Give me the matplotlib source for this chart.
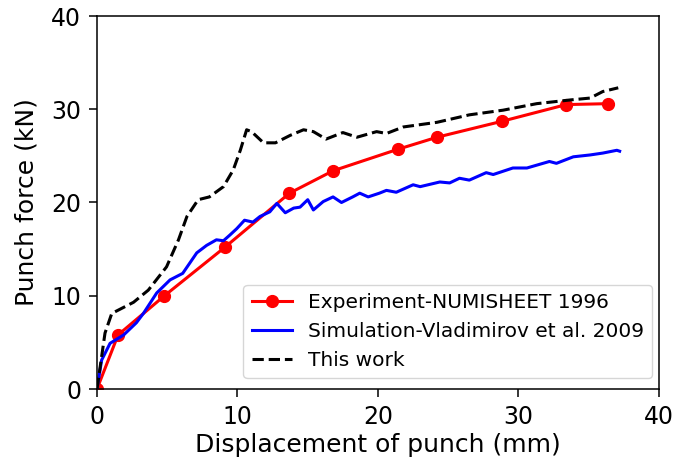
import numpy as np
import matplotlib
matplotlib.use("Agg")
import matplotlib.pyplot as plt

# Experiment (NUMISHEET 1996)
exp_x = [0.0, 1.5, 4.8, 9.1, 13.7, 16.8, 21.4, 24.2, 28.8, 33.4, 36.4]
exp_y = [0.0, 5.8, 10.0, 15.2, 21.0, 23.4, 25.7, 27.0, 28.7, 30.5, 30.6]

# Simulation (Vladimirov et al. 2009)
sim_x = [0.0, 0.33, 0.93, 1.9, 2.8, 3.3, 4.25, 5.2, 6.1, 6.6, 7.1, 7.8, 8.5, 9.0,
         9.45, 9.95, 10.5, 11.1, 11.6, 12.3, 12.8, 13.4, 14.0, 14.45, 15.0, 15.4,
         16.1, 16.8, 17.4, 18.2, 18.7, 19.3, 20.1, 20.6, 21.3, 22.5, 23.0, 24.4,
         25.1, 25.8, 26.5, 27.7, 28.2, 29.6, 30.6, 32.2, 32.7, 33.9, 35.1, 36.0,
         37.0, 37.2]
sim_y = [0.0, 3.1, 4.9, 5.8, 7.1, 8.1, 10.3, 11.7, 12.4, 13.5, 14.6, 15.4, 16.0, 15.9,
         16.5, 17.2, 18.1, 17.9, 18.5, 19.0, 19.9, 18.9, 19.4, 19.5, 20.3, 19.2,
         20.1, 20.6, 20.0, 20.6, 21.0, 20.6, 21.0, 21.3, 21.1, 21.9, 21.7, 22.2,
         22.1, 22.6, 22.4, 23.2, 23.0, 23.7, 23.7, 24.4, 24.2, 24.9, 25.1, 25.3,
         25.6, 25.5]

# This work
work_x = [0.0, 0.57, 1.05, 2.6, 3.65, 4.95, 5.8, 6.4, 7.2, 8.0, 9.0, 9.7, 10.2,
          10.65, 11.0, 11.85, 12.7, 13.75, 14.7, 15.4, 16.3, 17.5, 18.5, 19.9,
          20.6, 21.8, 24.2, 26.5, 28.9, 31.3, 33.7, 35.1, 36.0, 37.1]
work_y = [0.0, 6.0, 8.1, 9.3, 10.6, 13.1, 16.0, 18.5, 20.3, 20.6, 21.7, 23.5, 25.6,
          27.8, 27.6, 26.4, 26.4, 27.2, 27.8, 27.6, 26.8, 27.5, 27.0, 27.6,
          27.4, 28.1, 28.6, 29.4, 29.9, 30.6, 31.0, 31.2, 31.9, 32.3]

fig = plt.figure(figsize=(6.79, 4.69), dpi=100)
ax = fig.add_axes([97 / 679, 1 - 389 / 469, (659 - 97) / 679, (389 - 16) / 469])

ax.plot(exp_x, exp_y, "r-o", lw=2.2, ms=8.5, label="Experiment-NUMISHEET 1996")
ax.plot(sim_x, sim_y, "b-", lw=2.2, label="Simulation-Vladimirov et al. 2009")
ax.plot(work_x, work_y, "k--", lw=2.2, label="This work")

ax.set_xlim(0, 40)
ax.set_ylim(0, 40)
ax.set_xticks([0, 10, 20, 30, 40])
ax.set_yticks([0, 10, 20, 30, 40])
ax.tick_params(labelsize=17, length=6, width=1.1, pad=5.5)
for s in ax.spines.values():
    s.set_linewidth(1.1)
ax.set_xlabel("Displacement of punch (mm)", fontsize=18, labelpad=3)
ax.set_ylabel("Punch force (kN)", fontsize=18, labelpad=9)
ax.legend(loc="lower right", fontsize=14.5, borderaxespad=0,
          bbox_to_anchor=(0.9875, 0.0295))

fig.savefig("out.png", dpi=100)
